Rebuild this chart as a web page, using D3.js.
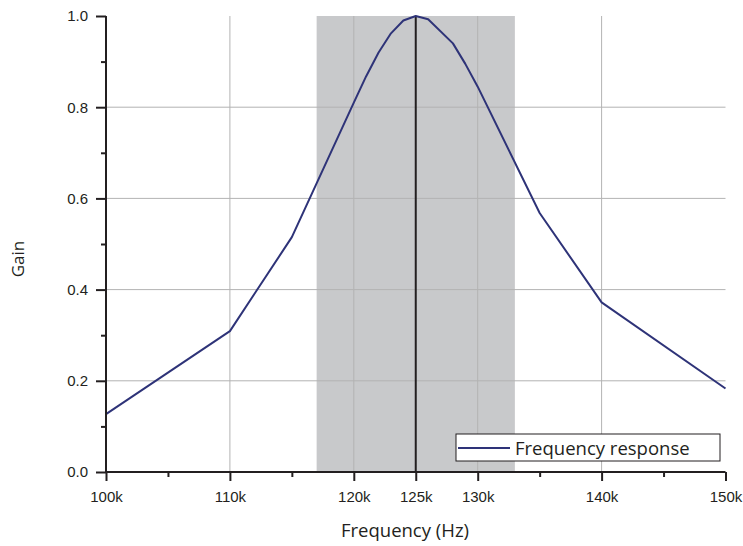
<!DOCTYPE html>
<html>
<head>
<meta charset="utf-8">
<script src="https://cdn.jsdelivr.net/npm/d3@7"></script>
<style>
  body { margin: 0; background: #fff; }
  svg { display: block; font-family: "Open Sans", sans-serif; }
</style>
</head>
<body>
<svg id="chart" width="743" height="546"></svg>
<script>
// frequency in kHz, gain
const freqs = [100, 110, 115, 120, 121, 122, 123, 124, 125, 126, 128, 129, 130, 135, 140, 150];
const gains = [0.127, 0.309, 0.515, 0.81, 0.868, 0.92, 0.962, 0.99, 1.0, 0.993, 0.94, 0.895, 0.845, 0.568, 0.372, 0.183];

const majorX = [100, 110, 120, 125, 130, 140, 150];
const minorX = [105, 115, 135, 145];
const gridX = [110, 120, 130, 140];
const majorY = [0, 0.2, 0.4, 0.6, 0.8, 1.0];
const minorY = [0.1, 0.3, 0.5, 0.7, 0.9];
const gridY = [0.2, 0.4, 0.6, 0.8];
const band = [117, 133];
const centre = 125;

const svg = d3.select('#chart');
const x = d3.scaleLinear().domain([100, 150]).range([106, 725.5]);
const y = d3.scaleLinear().domain([0, 1]).range([472, 16]);

const axisColor = '#231f20',
    gridColor = '#b3b3b3',
    lineColor = '#2e3378';

// pass band
svg.append('rect')
    .attr('x', x(band[0]))
    .attr('y', y(1))
    .attr('width', x(band[1]) - x(band[0]))
    .attr('height', y(0) - y(1))
    .attr('fill', '#c8c9cb');

// grid
svg.append('g').selectAll('line').data(gridX).join('line')
    .attr('x1', d => x(d)).attr('x2', d => x(d))
    .attr('y1', y(0)).attr('y2', y(1))
    .attr('stroke', gridColor).attr('stroke-width', 1);
svg.append('g').selectAll('line').data(gridY).join('line')
    .attr('x1', x(100)).attr('x2', x(150))
    .attr('y1', d => y(d)).attr('y2', d => y(d))
    .attr('stroke', gridColor).attr('stroke-width', 1);

// centre frequency marker
svg.append('line')
    .attr('x1', x(centre)).attr('x2', x(centre))
    .attr('y1', y(0)).attr('y2', y(1))
    .attr('stroke', axisColor).attr('stroke-width', 2);

// response curve
svg.append('path')
    .datum(d3.zip(freqs, gains))
    .attr('fill', 'none')
    .attr('stroke', lineColor)
    .attr('stroke-width', 2)
    .attr('stroke-linejoin', 'round')
    .attr('d', d3.line().x(d => x(d[0])).y(d => y(d[1])));

// axes
const xAxis = svg.append('g').attr('transform', `translate(0,${y(0)})`);
xAxis.call(d3.axisBottom(x).tickValues(majorX).tickSize(9).tickPadding(10)
    .tickFormat(d => d + 'k'));
xAxis.append('g').call(d3.axisBottom(x).tickValues(minorX).tickSize(5).tickFormat(''))
    .select('.domain').remove();

const yAxis = svg.append('g').attr('transform', `translate(${x(100)},0)`);
yAxis.call(d3.axisLeft(y).tickValues(majorY).tickSize(10).tickPadding(8)
    .tickFormat(d3.format('.1f')));
yAxis.append('g').call(d3.axisLeft(y).tickValues(minorY).tickSize(5).tickFormat(''))
    .select('.domain').remove();

svg.selectAll('.domain').attr('stroke', axisColor).attr('stroke-width', 2);
svg.selectAll('.tick line').attr('stroke', axisColor).attr('stroke-width', 2);
svg.selectAll('.tick text')
    .attr('fill', axisColor)
    .style('font-size', '15px');
xAxis.selectAll('.domain').attr('d', `M${x(100)},0H${x(150)}`);
yAxis.selectAll('.domain').attr('d', `M0,${y(0)}V${y(1)}`);

// axis titles
svg.append('text')
    .attr('x', 405).attr('y', 537)
    .attr('text-anchor', 'middle')
    .attr('fill', axisColor)
    .style('font-size', '18.5px')
    .text('Frequency (Hz)');
svg.append('text')
    .attr('transform', 'translate(24,259) rotate(-90)')
    .attr('text-anchor', 'middle')
    .attr('fill', axisColor)
    .style('font-size', '17px')
    .text('Gain');

// legend
const legend = svg.append('g').attr('transform', 'translate(456,434)');
legend.append('rect')
    .attr('width', 264).attr('height', 27)
    .attr('fill', '#fff')
    .attr('stroke', axisColor).attr('stroke-width', 1);
legend.append('line')
    .attr('x1', 2).attr('x2', 54)
    .attr('y1', 14).attr('y2', 14)
    .attr('stroke', lineColor).attr('stroke-width', 2);
legend.append('text')
    .attr('x', 59).attr('y', 20.5)
    .attr('fill', axisColor)
    .style('font-size', '18.5px')
    .text('Frequency response');
</script>
</body>
</html>
